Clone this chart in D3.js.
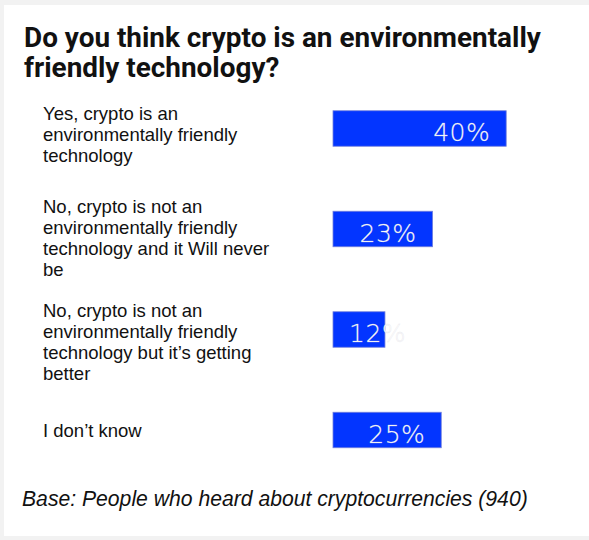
<!DOCTYPE html>
<html>
<head>
<meta charset="utf-8">
<script src="https://cdn.jsdelivr.net/npm/d3@7"></script>
<style>
  html, body { margin: 0; padding: 0; background: #f2f2f2; }
  svg { display: block; }
</style>
</head>
<body>
<svg id="chart" width="589" height="540"></svg>
<script>
// Survey answers and their shares (%)
const titleLines = ["Do you think crypto is an environmentally", "friendly technology?"];
const categories = [
  "Yes, crypto is an environmentally friendly technology",
  "No, crypto is not an environmentally friendly technology and it Will never be",
  "No, crypto is not an environmentally friendly technology but it\u2019s getting better",
  "I don\u2019t know"
];
const values = [40, 23, 12, 25];
const baseNote = "Base: People who heard about cryptocurrencies (940)";

const svg = d3.select("#chart");
const W = 589, H = 540;

// white card
svg.append("rect").attr("x", 4).attr("y", 5).attr("width", W - 4).attr("height", 531).attr("fill", "#ffffff");

// helper: scale a text's font size so it spans a given width
function fitWidth(sel, target) {
  let maxW = 0;
  sel.each(function () { maxW = Math.max(maxW, this.getComputedTextLength()); });
  const fs = parseFloat(sel.attr("font-size"));
  sel.attr("font-size", (fs * target / maxW).toFixed(2));
}

// title
const title = svg.append("g").selectAll("text").data(titleLines).join("text")
  .attr("x", 24).attr("y", (d, i) => 47 + i * 30)
  .attr("font-family", "Roboto, 'Noto Sans', sans-serif")
  .attr("font-weight", 700).attr("font-size", 23)
  .attr("fill", "#111111").text(d => d);
fitWidth(title, 517);

// scales
const x = d3.scaleLinear().domain([0, 100]).range([333, 333 + 433]);
const y = d3.scalePoint().domain(categories).range([128.5, 430]);
const barH = 35.5;

// wrap a category label into lines no wider than maxW
const labelFont = "'Liberation Sans', Arial, sans-serif";
const labelSize = 18.5;
const measurer = svg.append("text").attr("font-family", labelFont).attr("font-size", labelSize);
function wrap(str, maxW) {
  const words = str.split(" ");
  const lines = [];
  let cur = "";
  words.forEach(w => {
    const t = cur ? cur + " " + w : w;
    measurer.text(t);
    if (measurer.node().getComputedTextLength() > maxW && cur) { lines.push(cur); cur = w; }
    else cur = t;
  });
  if (cur) lines.push(cur);
  return lines;
}
const wrapped = categories.map(c => wrap(c, 238));
measurer.remove();

// category labels, each block centred on its bar with a small nudge
const lineH = 21;
const nudge = [6.5, 9, 12.5, 1];
const labels = svg.append("g").selectAll("text").data(categories).join("text")
  .attr("font-family", labelFont)
  .attr("font-size", labelSize).attr("fill", "#111111");
labels.each(function (d, i) {
  const lines = wrapped[i];
  const first = y(d) + nudge[i] - (lines.length - 1) * lineH / 2 + 6;
  d3.select(this).selectAll("tspan").data(lines).join("tspan")
    .attr("x", 43).attr("y", (l, j) => first + j * lineH).text(l => l);
});

// bars
const rows = categories.map((c, i) => ({ c, v: values[i] }));
svg.append("g").selectAll("rect").data(rows).join("rect")
  .attr("x", x(0)).attr("y", d => y(d.c) - barH / 2)
  .attr("width", d => x(d.v) - x(0)).attr("height", barH)
  .attr("fill", "#0335ff").attr("stroke", "#7280dc").attr("stroke-width", 0.8);

// value labels inside the bars
const vl = svg.append("g").selectAll("text").data(rows).join("text")
  .attr("y", d => y(d.c) + 12.5)
  .attr("font-family", "'DejaVu Sans', sans-serif").attr("font-weight", 200)
  .attr("font-size", 25)
  .attr("fill", "#ffffff").attr("stroke", "rgba(215,215,225,0.6)").attr("stroke-width", 0.45)
  .text(d => d.v + "%");
// even out the spacing so a label like "40%" spans about 57px
const w40 = vl.filter(d => d.v === 40).node().getComputedTextLength();
vl.attr("letter-spacing", Math.max(0, (57 - w40) / 3).toFixed(2));
vl.each(function (d) {
  const w = this.getComputedTextLength();
  const xs = Math.max(x(d.v) - 16 - w, x(0) + 16);
  d3.select(this).attr("x", xs);
});

// base note
const note = svg.append("text").attr("x", 22).attr("y", 506)
  .attr("font-family", labelFont)
  .attr("font-style", "italic").attr("font-size", 19).attr("fill", "#111111")
  .text(baseNote);
fitWidth(note, 506);
</script>
</body>
</html>
